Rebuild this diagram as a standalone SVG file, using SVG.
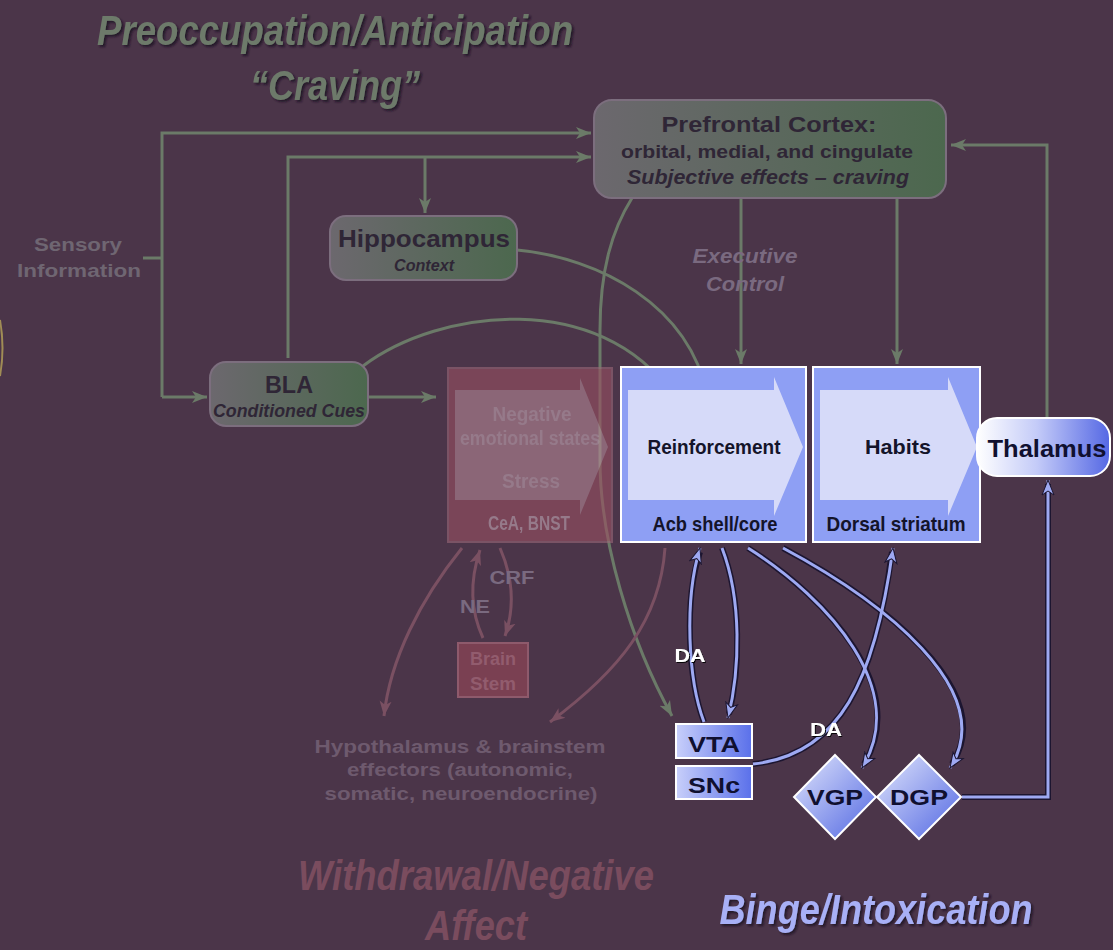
<svg xmlns="http://www.w3.org/2000/svg" width="1113" height="950" viewBox="0 0 1113 950">
<defs>
<style>
text{font-family:"Liberation Sans",Arial,sans-serif;font-weight:bold;text-anchor:middle}
.it{font-style:italic}
.ttl{font-size:42px;font-style:italic}
.g{fill:none;stroke:#6b7a68;stroke-width:3}
.r{fill:none;stroke:#7a5062;stroke-width:3}
.bs{fill:none;stroke:#1c1530;stroke-width:6}
.b{fill:none;stroke:#9ea9f2;stroke-width:3}
.dk{fill:#2f2636}
.wb{stroke:#ffffff;stroke-width:2}
</style>
<filter id="sh" x="-5%" y="-20%" width="110%" height="140%"><feDropShadow dx="2" dy="2" stdDeviation="1" flood-color="#1a1020" flood-opacity="0.8"/></filter>
<filter id="sh2" x="-10%" y="-20%" width="120%" height="140%"><feDropShadow dx="1" dy="1" stdDeviation="0.6" flood-color="#000000" flood-opacity="0.9"/></filter>
<linearGradient id="gpfc" x1="0" y1="0" x2="1" y2="0"><stop offset="0" stop-color="#6c686e"/><stop offset="1" stop-color="#4c684e"/></linearGradient>
<linearGradient id="gthal" x1="0" y1="0" x2="1" y2="0"><stop offset="0" stop-color="#ffffff"/><stop offset="0.45" stop-color="#c4cbf8"/><stop offset="1" stop-color="#5568e4"/></linearGradient>
<linearGradient id="gsm" x1="0" y1="0" x2="1" y2="0"><stop offset="0" stop-color="#c8cffa"/><stop offset="1" stop-color="#5a70ea"/></linearGradient>
<linearGradient id="gdia" x1="0" y1="0" x2="1" y2="1"><stop offset="0" stop-color="#e2e6fc"/><stop offset="1" stop-color="#5066e2"/></linearGradient>
<marker id="mg" markerUnits="userSpaceOnUse" markerWidth="16" markerHeight="14" refX="15" refY="7" orient="auto"><path d="M0,1 L15,7 L0,13 L4,7 Z" fill="#6b7a68"/></marker>
<marker id="mr" markerUnits="userSpaceOnUse" markerWidth="16" markerHeight="14" refX="15" refY="7" orient="auto"><path d="M0,1 L15,7 L0,13 L4,7 Z" fill="#7a5062"/></marker>
<marker id="mb" markerUnits="userSpaceOnUse" markerWidth="18" markerHeight="16" refX="16" refY="8" orient="auto"><path d="M1,2 L16,8 L1,14 L5,8 Z" fill="#9ea9f2" stroke="#1c1530" stroke-width="1"/></marker>
</defs>
<rect width="1113" height="950" fill="#4b3549"/>
<path d="M0,320 Q5,348 0,376" fill="none" stroke="#a08c55" stroke-width="2"/>

<g id="titles">
<text class="ttl" x="335" y="45" fill="#6d7a6b" filter="url(#sh)" textLength="476" lengthAdjust="spacingAndGlyphs">Preoccupation/Anticipation</text>
<text class="ttl" x="335" y="100" fill="#6d7a6b" filter="url(#sh)" textLength="170" lengthAdjust="spacingAndGlyphs">“Craving”</text>
<text class="ttl" x="476" y="890" fill="#7a4c5e" textLength="356" lengthAdjust="spacingAndGlyphs">Withdrawal/Negative</text>
<text class="ttl" x="476" y="940" font-size="40" fill="#7a4c5e" textLength="102" lengthAdjust="spacingAndGlyphs">Affect</text>
<text class="ttl" x="876" y="924" fill="#a8b0f6" filter="url(#sh)" textLength="313" lengthAdjust="spacingAndGlyphs">Binge/Intoxication</text>
</g>

<g id="connectors">
<path class="g" d="M143,258 H162"/>
<path class="g" d="M162,397 V133 H591" marker-end="url(#mg)"/>
<path class="g" d="M162,397 H207" marker-end="url(#mg)"/>
<path class="g" d="M288,358 V157 H591" marker-end="url(#mg)"/>
<path class="g" d="M425,157 V213" marker-end="url(#mg)"/>
<path class="g" d="M368,397 H436" marker-end="url(#mg)"/>
<path class="g" d="M363,366 C440,308 600,290 672,394" marker-end="url(#mg)"/>
<path class="g" d="M517,250 C600,258 688,305 707,394" marker-end="url(#mg)"/>
<path class="g" d="M632,198 C612,230 600,270 600,330 L600,460 C600,540 630,640 672,716" marker-end="url(#mg)"/>
<path class="g" d="M741,198 V364" marker-end="url(#mg)"/>
<path class="g" d="M897,198 V364" marker-end="url(#mg)"/>
<path class="g" d="M1047,418 V145 H951" marker-end="url(#mg)"/>
<path class="r" d="M462,548 C420,600 390,660 384,716" marker-end="url(#mr)"/>
<path class="r" d="M483,638 C470,610 470,580 480,550" marker-end="url(#mr)"/>
<path class="r" d="M500,548 C514,580 514,610 505,636" marker-end="url(#mr)"/>
<path class="r" d="M665,548 C660,620 620,670 550,722" marker-end="url(#mr)"/>
<path class="bs" d="M704,722 C688,680 684,600 700,552"/>
<path class="bs" d="M722,548 C742,600 740,670 729,714"/>
<path class="bs" d="M748,548 C830,600 910,690 864,764"/>
<path class="bs" d="M783,548 C880,600 1000,690 952,764"/>
<path class="bs" d="M753,764 C840,755 875,680 892,552"/>
<path class="bs" d="M962,797 H1048 V484"/>
<path class="b" d="M704,722 C688,680 684,600 700,548" marker-end="url(#mb)"/>
<path class="b" d="M722,548 C742,600 740,670 728,718" marker-end="url(#mb)"/>
<path class="b" d="M748,548 C830,600 910,690 862,768" marker-end="url(#mb)"/>
<path class="b" d="M783,548 C880,600 1000,690 950,768" marker-end="url(#mb)"/>
<path class="b" d="M753,764 C840,755 875,680 893,548" marker-end="url(#mb)"/>
<path class="b" d="M962,797 H1048 V480" marker-end="url(#mb)"/>
</g>

<g id="labels">
<text x="78" y="251" font-size="19" fill="#6f6672" textLength="88" lengthAdjust="spacingAndGlyphs">Sensory</text>
<text x="79" y="277" font-size="19" fill="#6f6672" textLength="124" lengthAdjust="spacingAndGlyphs">Information</text>
<text class="it" x="745" y="263" font-size="21" fill="#7a6a80" textLength="105" lengthAdjust="spacingAndGlyphs">Executive</text>
<text class="it" x="745" y="291" font-size="21" fill="#7a6a80" textLength="78" lengthAdjust="spacingAndGlyphs">Control</text>
<text x="512" y="584" font-size="19" fill="#7a6a80" textLength="45" lengthAdjust="spacingAndGlyphs">CRF</text>
<text x="475" y="613" font-size="19" fill="#7a6a80" textLength="30" lengthAdjust="spacingAndGlyphs">NE</text>
<text x="460" y="753" font-size="18" fill="#6e5a6e" textLength="291" lengthAdjust="spacingAndGlyphs">Hypothalamus &amp; brainstem</text>
<text x="460" y="776" font-size="18" fill="#6e5a6e" textLength="226" lengthAdjust="spacingAndGlyphs">effectors (autonomic,</text>
<text x="461" y="800" font-size="18" fill="#6e5a6e" textLength="273" lengthAdjust="spacingAndGlyphs">somatic, neuroendocrine)</text>
<text x="690" y="662" font-size="19" fill="#ffffff" filter="url(#sh2)" textLength="31" lengthAdjust="spacingAndGlyphs">DA</text>
<text x="826" y="736" font-size="19" fill="#ffffff" filter="url(#sh2)" textLength="32" lengthAdjust="spacingAndGlyphs">DA</text>
</g>

<g id="pfc">
<rect x="594" y="100" width="352" height="98" rx="18" fill="url(#gpfc)" stroke="#7c6e7e" stroke-width="2"/>
<text class="dk" x="769" y="132" font-size="22" textLength="215" lengthAdjust="spacingAndGlyphs">Prefrontal Cortex:</text>
<text class="dk" x="767" y="158" font-size="19" textLength="292" lengthAdjust="spacingAndGlyphs">orbital, medial, and cingulate</text>
<text class="dk it" x="768" y="184" font-size="20" textLength="282" lengthAdjust="spacingAndGlyphs">Subjective effects – craving</text>
</g>

<g id="hippocampus">
<rect x="330" y="216" width="187" height="64" rx="16" fill="url(#gpfc)" stroke="#7c6e7e" stroke-width="2"/>
<text class="dk" x="424" y="247" font-size="24" textLength="172" lengthAdjust="spacingAndGlyphs">Hippocampus</text>
<text class="dk it" x="424" y="271" font-size="17" textLength="60" lengthAdjust="spacingAndGlyphs">Context</text>
</g>

<g id="bla">
<rect x="210" y="362" width="158" height="64" rx="16" fill="url(#gpfc)" stroke="#7c6e7e" stroke-width="2"/>
<text class="dk" x="289" y="393" font-size="24" textLength="48" lengthAdjust="spacingAndGlyphs">BLA</text>
<text class="dk it" x="289" y="417" font-size="18" textLength="152" lengthAdjust="spacingAndGlyphs">Conditioned Cues</text>
</g>

<g id="negative" opacity="0.6">
<rect x="448" y="368" width="164" height="174" fill="#9a5062" stroke="#9a6878" stroke-width="2"/>
<path d="M455,390 H580 V378 L608,447 L580,515 V500 H455 Z" fill="#b68896"/>
<g fill="#c8a8b6">
<text x="532" y="421" font-size="20" font-weight="normal" textLength="79" lengthAdjust="spacingAndGlyphs">Negative</text>
<text x="530" y="445" font-size="20" font-weight="normal" textLength="140" lengthAdjust="spacingAndGlyphs">emotional states</text>
<text x="531" y="488" font-size="20" font-weight="normal" textLength="58" lengthAdjust="spacingAndGlyphs">Stress</text>
<text x="529" y="530" font-size="20" font-weight="normal" textLength="82" lengthAdjust="spacingAndGlyphs">CeA, BNST</text>
</g>
</g>

<g id="reinforcement">
<rect x="621" y="367" width="185" height="175" fill="#8e9ff4" class="wb"/>
<path d="M628,390 H774 V377 L803,447 L774,516 V500 H628 Z" fill="#d6daf9"/>
<text x="714" y="454" font-size="21" font-weight="normal" fill="#14142a" textLength="133" lengthAdjust="spacingAndGlyphs">Reinforcement</text>
<text x="715" y="531" font-size="21" font-weight="normal" fill="#14142a" textLength="125" lengthAdjust="spacingAndGlyphs">Acb shell/core</text>
</g>

<g id="habits">
<rect x="813" y="367" width="167" height="175" fill="#8e9ff4" class="wb"/>
<path d="M820,390 H948 V377 L977,447 L948,516 V500 H820 Z" fill="#d6daf9"/>
<text x="898" y="454" font-size="21" font-weight="normal" fill="#14142a" textLength="66" lengthAdjust="spacingAndGlyphs">Habits</text>
<text x="896" y="531" font-size="21" font-weight="normal" fill="#14142a" textLength="139" lengthAdjust="spacingAndGlyphs">Dorsal striatum</text>
</g>

<g id="thalamus">
<rect x="977" y="418" width="133" height="58" rx="20" fill="url(#gthal)" class="wb"/>
<text x="1047" y="457" font-size="23" fill="#101030" textLength="119" lengthAdjust="spacingAndGlyphs">Thalamus</text>
</g>

<g id="brainstem">
<rect x="458" y="643" width="70" height="54" fill="#7a4052" stroke="#8e5a6c" stroke-width="2"/>
<text x="493" y="665" font-size="18" fill="#925c6e" textLength="46" lengthAdjust="spacingAndGlyphs">Brain</text>
<text x="493" y="690" font-size="18" fill="#925c6e" textLength="46" lengthAdjust="spacingAndGlyphs">Stem</text>
</g>

<g id="vta">
<rect x="676" y="724" width="76" height="34" fill="url(#gsm)" class="wb"/>
<text x="714" y="752" font-size="22" fill="#101030" textLength="52" lengthAdjust="spacingAndGlyphs">VTA</text>
</g>

<g id="snc">
<rect x="676" y="766" width="76" height="33" fill="url(#gsm)" class="wb"/>
<text x="714" y="793" font-size="22" fill="#101030" textLength="52" lengthAdjust="spacingAndGlyphs">SNc</text>
</g>

<g id="vgp">
<path d="M835,755 L876,797 L835,839 L794,797 Z" fill="url(#gdia)" class="wb"/>
<text x="835" y="805" font-size="22" fill="#101030" textLength="56" lengthAdjust="spacingAndGlyphs">VGP</text>
</g>

<g id="dgp">
<path d="M919,755 L961,797 L919,839 L877,797 Z" fill="url(#gdia)" class="wb"/>
<text x="919" y="805" font-size="22" fill="#101030" textLength="58" lengthAdjust="spacingAndGlyphs">DGP</text>
</g>
</svg>
